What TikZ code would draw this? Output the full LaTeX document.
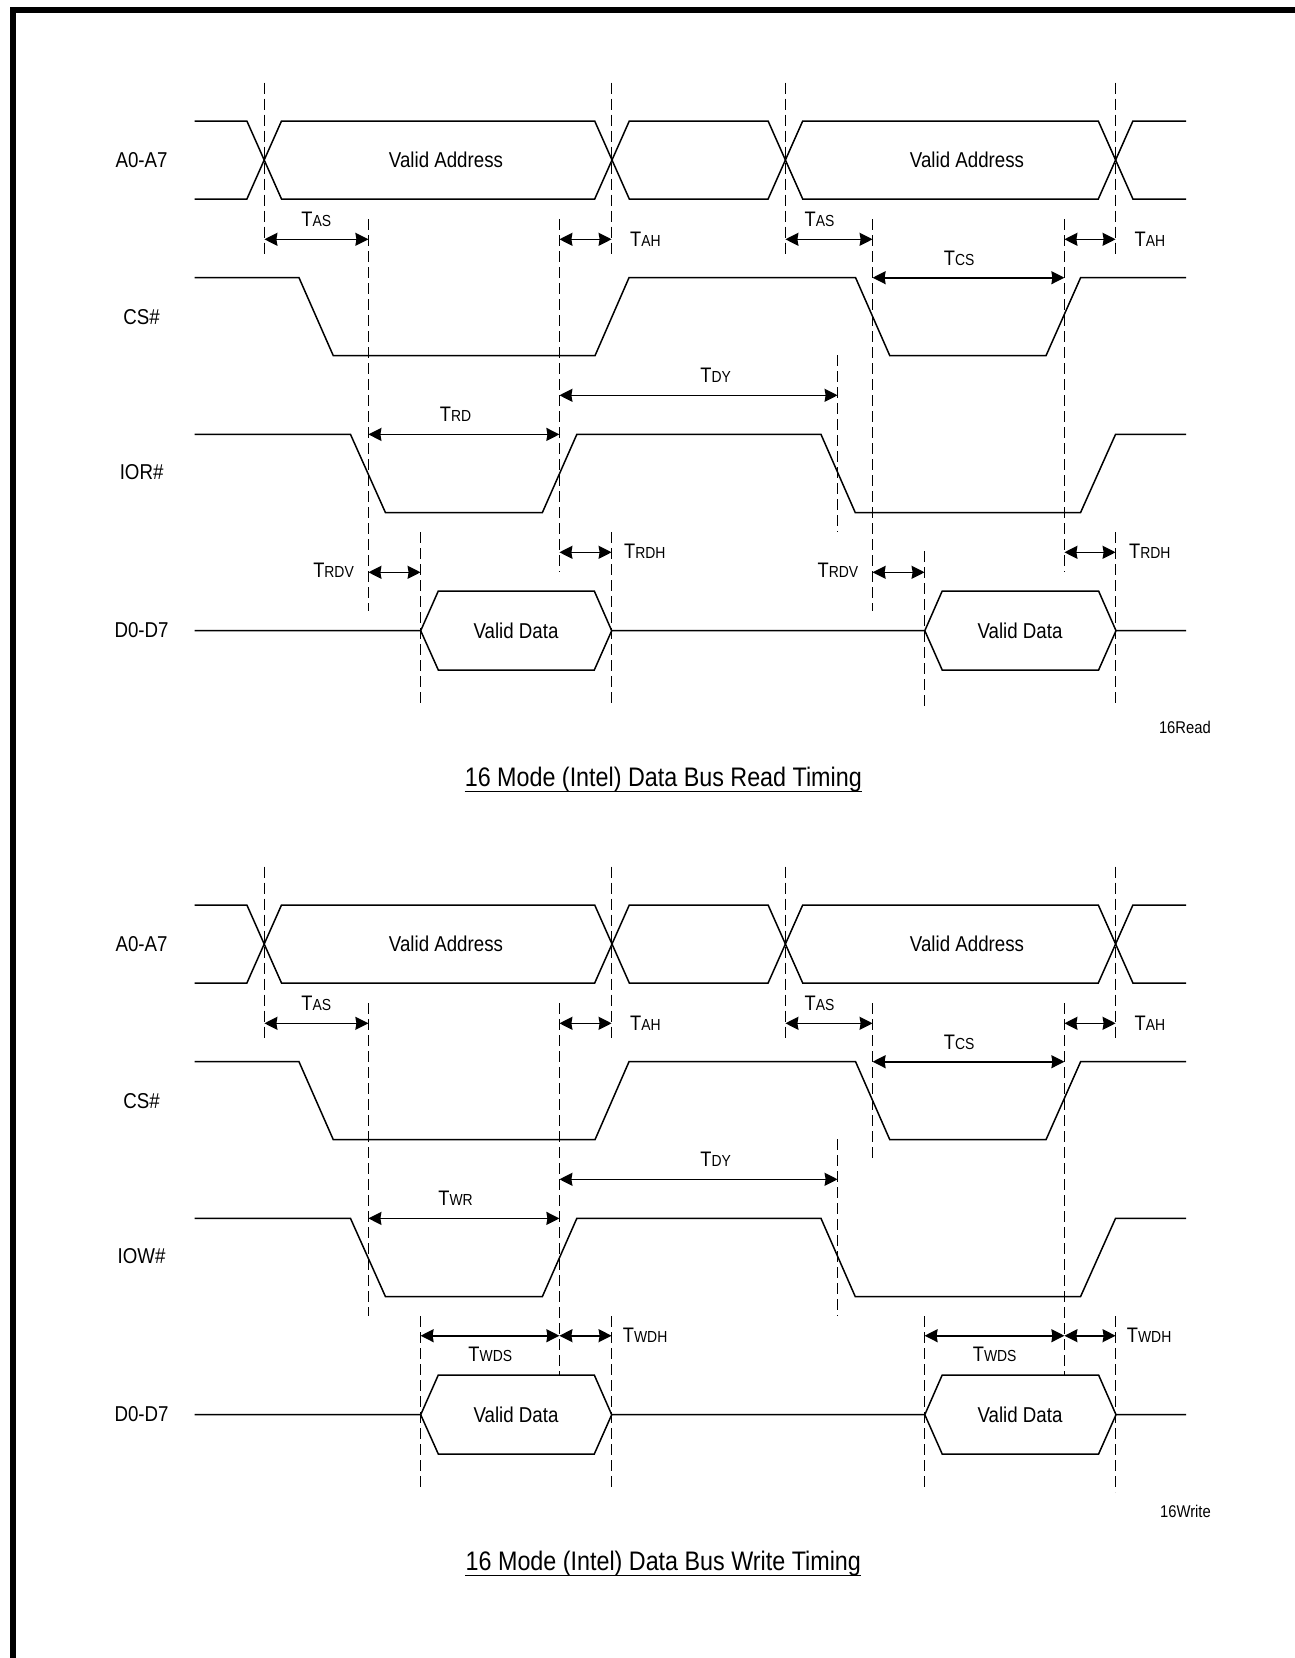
\documentclass[tikz,border=0pt]{standalone}
\usepackage{fontspec}
\setmainfont[FakeStretch=0.87]{Liberation Sans}
\usetikzlibrary{arrows.meta}
\tikzset{
  sig/.style={line width=1.5pt, line join=miter},
  guide/.style={line width=1.1pt, dash pattern=on 11pt off 5pt},
  dimarrow/.style={line width=1.6pt,
    {Stealth[length=13pt,width=13pt,inset=1pt]}-{Stealth[length=13pt,width=13pt,inset=1pt]}},
  lbl/.style={inner sep=0pt, font=\fontsize{21.5}{25}\selectfont},
  tlbl/.style={inner sep=0pt, font=\fontsize{21}{25}\selectfont},
  small/.style={inner sep=0pt, font=\fontsize{17}{20}\selectfont},
  title/.style={inner sep=0pt, font=\fontsize{26.8}{32}\selectfont},
}
\newcommand\Tm[1]{T{\fontsize{16}{18}\selectfont #1}}
% common part of one timing diagram: #1 prefix, #2 strobe name, #3 pulse label
\newcommand\commonpart[3]{%
  % signal names
  \node[lbl] (#1na) at (141.6,160) {A0-A7};
  \node[lbl] (#1nc) at (141.6,317) {CS\#};
  \node[lbl] (#1ni) at (141.6,472.5) {#2};
  \node[lbl] (#1nd) at (141.6,630.5) {D0-D7};
  % address bus
  \draw[sig] (194.5,121) -- (246.9,121) -- (281.5,199) -- (594.7,199) -- (629.3,121)
     -- (768.1,121) -- (802.7,199) -- (1098.3,199) -- (1132.9,121) -- (1186,121);
  \draw[sig] (194.5,199) -- (246.9,199) -- (281.5,121) -- (594.7,121) -- (629.3,199)
     -- (768.1,199) -- (802.7,121) -- (1098.3,121) -- (1132.9,199) -- (1186,199);
  \node[lbl] (#1va1) at (446,160) {Valid Address};
  \node[lbl] (#1va2) at (967,160) {Valid Address};
  % CS#
  \draw[sig] (194.5,277.7) -- (299,277.7) -- (333.3,355.7) -- (595,355.7) -- (629,277.7)
     -- (855.6,277.7) -- (889.8,355.7) -- (1046,355.7) -- (1080.6,277.7) -- (1186,277.7);
  % strobe
  \draw[sig] (194.5,434.4) -- (350.5,434.4) -- (385.5,512.7) -- (542.3,512.7) -- (576.8,434.4)
     -- (821,434.4) -- (855.3,512.7) -- (1080.5,512.7) -- (1115.5,434.4) -- (1186,434.4);
  % data bus
  \draw[sig] (194.5,630.7) -- (420.7,630.7) -- (438.3,591) -- (594.3,591) -- (611.7,630.7)
     -- (924.8,630.7) -- (942.2,591) -- (1098.6,591) -- (1116,630.7) -- (1186,630.7);
  \draw[sig] (420.7,630.7) -- (438.3,670) -- (594.3,670) -- (611.7,630.7);
  \draw[sig] (924.8,630.7) -- (942.2,670) -- (1098.6,670) -- (1116,630.7);
  \node[lbl] (#1vd1) at (516,630.5) {Valid Data};
  \node[lbl] (#1vd2) at (1020,630.5) {Valid Data};
  % crossing guides
  \draw[guide] (264.4,82.5) -- (264.4,257);
  \draw[guide] (611.6,82.5) -- (611.6,257);
  \draw[guide] (785.4,82.5) -- (785.4,257);
  \draw[guide] (1115.6,82.5) -- (1115.6,257);
  \draw[guide] (837.6,355) -- (837.6,531.7);
  \draw[guide] (420.6,532) -- (420.6,706);
  \draw[guide] (611.6,532) -- (611.6,706);
  \draw[guide] (1115.6,532) -- (1115.6,708);
  % common arrows
  \draw[dimarrow] (264.4,239.3) -- (368.4,239.3);
  \draw[dimarrow] (559.4,239.3) -- (611.6,239.3);
  \draw[dimarrow] (785.4,239.3) -- (872.6,239.3);
  \draw[dimarrow] (1064.4,239.3) -- (1115.6,239.3);
  \draw[dimarrow] (872.6,277.7) -- (1064.4,277.7);
  \draw[dimarrow] (559.4,395.3) -- (837.6,395.3);
  \draw[dimarrow] (368.4,434.4) -- (559.4,434.4);
  \node[tlbl] (#1tas1) at (316.3,219) {\Tm{AS}};
  \node[tlbl] (#1tas2) at (819.5,219) {\Tm{AS}};
  \node[tlbl, anchor=west] (#1tah1) at (630,239.3) {\Tm{AH}};
  \node[tlbl, anchor=west] (#1tah2) at (1134.5,239.3) {\Tm{AH}};
  \node[tlbl] (#1tcs) at (959.2,258.7) {\Tm{CS}};
  \node[tlbl] (#1tdy) at (715.6,375.2) {\Tm{DY}};
  \node[tlbl] (#1tp) at (455.6,414.3) {#3};
}
\begin{document}
\begin{tikzpicture}[x=1pt,y=-1pt]
\useasboundingbox (0,0) rectangle (1295,1658);
\draw[line width=6pt, line join=miter] (13,1665) -- (13,10) -- (1300,10);

% ---------------- read ----------------
\commonpart{r}{IOR\#}{\Tm{RD}}
\draw[guide] (368.4,219) -- (368.4,610.7);
\draw[guide] (559.4,219) -- (559.4,571.7);
\draw[guide] (872.6,219) -- (872.6,610.7);
\draw[guide] (1064.4,219) -- (1064.4,571.7);
\draw[guide] (924.6,551) -- (924.6,708);
\draw[dimarrow] (368.4,572.3) -- (420.6,572.3);
\draw[dimarrow] (872.6,572.3) -- (924.6,572.3);
\draw[dimarrow] (559.4,552.3) -- (611.6,552.3);
\draw[dimarrow] (1064.4,552.3) -- (1115.6,552.3);
\node[tlbl, anchor=east] (rtrdv1) at (354,570) {\Tm{RDV}};
\node[tlbl, anchor=east] (rtrdv2) at (858.4,570.5) {\Tm{RDV}};
\node[tlbl, anchor=west] (rtrdh1) at (624,551.7) {\Tm{RDH}};
\node[tlbl, anchor=west] (rtrdh2) at (1128.9,551.5) {\Tm{RDH}};
\node[small, anchor=east] (rtag) at (1211,727) {16Read};
\node[title, anchor=base] (rtitle) at (663.3,786.3) {16 Mode (Intel) Data Bus Read Timing};
\draw[line width=1.4pt] ([yshift=-5pt]rtitle.base west) -- ([yshift=-5pt]rtitle.base east);

% ---------------- write ----------------
\begin{scope}[shift={(0,784)}]
\commonpart{w}{IOW\#}{\Tm{WR}}
\draw[guide] (368.4,219) -- (368.4,532);
\draw[guide] (559.4,219) -- (559.4,591);
\draw[guide] (872.6,219) -- (872.6,376.6);
\draw[guide] (1064.4,219) -- (1064.4,591);
\draw[guide] (924.6,532) -- (924.6,706);
\draw[dimarrow] (420.6,551.7) -- (559.4,551.7);
\draw[dimarrow] (559.4,551.7) -- (611.6,551.7);
\draw[dimarrow] (924.6,551.7) -- (1064.4,551.7);
\draw[dimarrow] (1064.4,551.7) -- (1115.6,551.7);
\node[tlbl] (wtwds1) at (490.3,570.5) {\Tm{WDS}};
\node[tlbl] (wtwds2) at (994.7,570.5) {\Tm{WDS}};
\node[tlbl, anchor=west] (wtwdh1) at (622.7,551.5) {\Tm{WDH}};
\node[tlbl, anchor=west] (wtwdh2) at (1126.7,551.5) {\Tm{WDH}};
\node[small, anchor=east] (wtag) at (1211,727) {16Write};
\node[title, anchor=base] (wtitle) at (663.3,786.3) {16 Mode (Intel) Data Bus Write Timing};
\draw[line width=1.4pt] ([yshift=-5pt]wtitle.base west) -- ([yshift=-5pt]wtitle.base east);
\end{scope}
\end{tikzpicture}
\end{document}
